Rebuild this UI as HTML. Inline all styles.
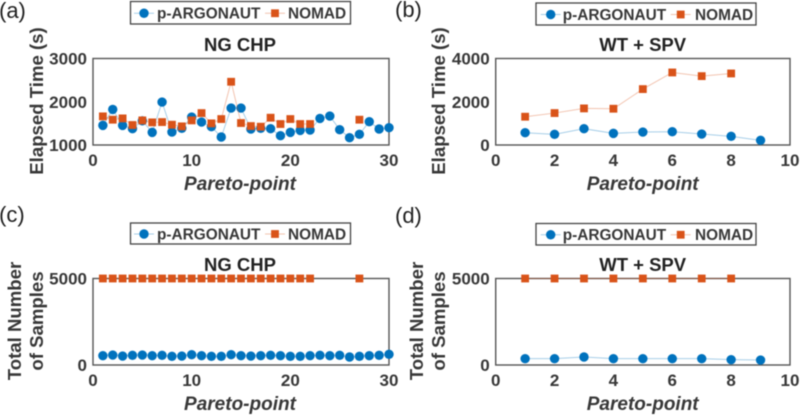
<!DOCTYPE html>
<html lang="en">
<head>
<meta charset="utf-8">
<title>Pareto-point comparison</title>
<style>
html,body{margin:0;padding:0;background:#fff;width:800px;height:415px;overflow:hidden}
svg{display:block;filter:blur(0.5px)}
text{font-family:"Liberation Sans",Arial,sans-serif}
</style>
</head>
<body>
<svg id="fig" xmlns="http://www.w3.org/2000/svg" width="800" height="415" viewBox="0 0 800 415"></svg>
<script>
const argonautTimeChp = [1454,1823,1454,1377,1560,1292,1992,1300,1385,1646,1530,1423,1185,1854,1854,1370,1385,1377,1215,1292,1338,1346,1615,1669,1354,1169,1246,1538,1370,1400];
const nomadTimeChp = [1662,1585,1615,1462,1569,1523,1530,1469,1431,1569,1738,1500,1600,2462,1508,1438,1423,1631,1485,1600,1485,1485,null,null,null,null,1585,null,null,null];
const argonautTimeSpv = [569,492,754,538,600,615,508,400,215];
const nomadTimeSpv = [1308,1477,1692,1677,2585,3354,3185,3308];
const argonautSamplesChp = [540,577,519,558,577,540,558,500,519,596,540,500,500,596,540,519,540,558,540,500,500,540,558,540,558,462,500,540,558,615];
const nomadSamplesChp = [5000,5000,5000,5000,5000,5000,5000,5000,5000,5000,5000,5000,5000,5000,5000,5000,5000,5000,5000,5000,5000,5000,null,null,null,null,5000,null,null,null];
const argonautSamplesSpv = [365,365,462,365,365,365,365,308,288];
const nomadSamplesSpv = [5000,5000,5000,5000,5000,5000,5000,5000];
const xTicksChp = [0,10,20,30];
const xTicksSpv = [0,2,4,6,8,10];
const yTicksTimeChp = [1000,2000,3000];
const yTicksTimeSpv = [0,2000,4000];
const yTicksSamples = [0,5000];
const seriesNames = ['p-ARGONAUT','NOMAD'];

const NS = 'http://www.w3.org/2000/svg';
const fig = document.getElementById('fig');
const BLUE = '#0072BD', ORANGE = '#D95319', INK = '#383838';
const R = 4.7, S = 3.9;

function make(parent, tag, attrs, txt){
  const el = document.createElementNS(NS, tag);
  for (const k in attrs) el.setAttribute(k, attrs[k]);
  if (txt !== undefined) el.textContent = txt;
  parent.appendChild(el);
  return el;
}
function drawSeries(g, values, sx, sy, color, kind){
  let run = [];
  const flush = () => {
    if (run.length > 1) {
      const line = make(g, 'polyline', {points: run.join(' '), fill:'none', stroke:color, 'stroke-width':1, 'stroke-opacity':0.35});
      
      
    }
    run = [];
  };
  values.forEach((v, i) => {
    if (v === null) { flush(); return; }
    run.push(sx(i + 1) + ',' + sy(v));
  });
  flush();
  values.forEach((v, i) => {
    if (v === null) return;
    let m;
    if (kind === 'argonaut') m = make(g, 'circle', {cx:sx(i + 1), cy:sy(v), r:R, fill:color});
    else m = make(g, 'rect', {x:sx(i + 1) - S, y:sy(v) - S, width:2 * S, height:2 * S, fill:color});
    
    
  });
}
function drawLegend(g, lg){
  const box = make(g, 'rect', {x:lg.x, y:lg.y, width:lg.w, height:lg.h, fill:'#fff', stroke:'#444', 'stroke-width':1.3});
  
  
  const cy = lg.y + lg.h / 2 + 0.5;
  const l1 = make(g, 'line', {x1:lg.m1 - 10, x2:lg.m1 + 10, y1:cy, y2:cy, stroke:BLUE, 'stroke-opacity':0.35});
  
  
  const c = make(g, 'circle', {cx:lg.m1, cy:cy, r:R, fill:BLUE});
  
  
  const t1 = make(g, 'text', {x:lg.t1, y:cy + 5.3, 'font-size':15.4, 'font-weight':'bold', fill:INK}, seriesNames[0]);
  
  
  const l2 = make(g, 'line', {x1:lg.m2 - 10, x2:lg.m2 + 10, y1:cy, y2:cy, stroke:ORANGE, 'stroke-opacity':0.35});
  
  
  const s = make(g, 'rect', {x:lg.m2 - S, y:cy - S, width:2 * S, height:2 * S, fill:ORANGE});
  
  
  const t2 = make(g, 'text', {x:lg.t2, y:cy + 5.3, 'font-size':15.4, 'font-weight':'bold', fill:INK}, seriesNames[1]);
  
  
}
function drawPanel(p){
  const g = make(fig, 'g', {});
  
  
  const xMin = p.xTicks[0], xMax = p.xTicks[p.xTicks.length - 1];
  const yMin = p.yTicks[0], yMax = p.yTicks[p.yTicks.length - 1];
  const sx = v => p.l + (v - xMin) / (xMax - xMin) * (p.r - p.l);
  const sy = v => p.b - (v - yMin) / (yMax - yMin) * (p.b - p.t);

  const tag = make(g, 'text', {x:p.tagX, y:p.tagY, 'font-size':22, fill:'#222'}, '(' + p.id + ')');
  
  

  drawLegend(g, p.legend);

  const frame = make(g, 'rect', {x:p.l, y:p.t, width:p.r - p.l, height:p.b - p.t, fill:'none', stroke:'#555', 'stroke-width':1.4});
  
  

  const title = make(g, 'text', {x:p.cx, y:p.titleY, 'font-size':18.5, 'font-weight':'bold', 'text-anchor':'middle', fill:'#222'}, p.title);
  
  

  p.xTicks.forEach(v => {
    const t = make(g, 'text', {x:sx(v), y:p.b + 21, 'font-size':17, 'font-weight':'bold', 'text-anchor':'middle', fill:INK}, String(v));
    
    
  });
  p.yTicks.forEach(v => {
    const t = make(g, 'text', {x:p.l - 6, y:sy(v) + 6, 'font-size':17, 'font-weight':'bold', 'text-anchor':'end', fill:INK}, String(v));
    
    
  });

  const xt = make(g, 'text', {x:p.cx, y:p.b + 45, 'font-size':19, 'font-weight':'bold', 'font-style':'italic', 'text-anchor':'middle', fill:INK}, 'Pareto-point');
  
  

  p.yTitle.forEach(line => {
    const yt = make(g, 'text', {x:0, y:0, transform:'translate(' + line.x + ',' + p.yTitleCy + ') rotate(-90)', 'font-size':18.6, 'font-weight':'bold', 'text-anchor':'middle', fill:INK}, line.text);
    
    
  });

  const a = make(g, 'g', {});
  
  
  drawSeries(a, p.argonaut, sx, sy, BLUE, 'argonaut');
  const n = make(g, 'g', {});
  
  
  drawSeries(n, p.nomad, sx, sy, ORANGE, 'nomad');
}

drawPanel({id:'a', l:93, r:389, t:58.5, b:145, cx:240, titleY:51, tagX:-1, tagY:18, title:'NG CHP',
  xTicks:xTicksChp, yTicks:yTicksTimeChp, argonaut:argonautTimeChp, nomad:nomadTimeChp,
  yTitle:[{x:43, text:'Elapsed Time (s)'}], yTitleCy:101,
  legend:{x:130.5, y:1.5, w:220, h:22.5, m1:144, m2:275, t1:157, t2:288}});
drawPanel({id:'b', l:495.7, r:790, t:58.5, b:145, cx:642.7, titleY:51, tagX:395, tagY:17, title:'WT + SPV',
  xTicks:xTicksSpv, yTicks:yTicksTimeSpv, argonaut:argonautTimeSpv, nomad:nomadTimeSpv,
  yTitle:[{x:445, text:'Elapsed Time (s)'}], yTitleCy:101,
  legend:{x:536, y:3, w:220, h:22, m1:550.7, m2:680.7, t1:562.7, t2:695}});
drawPanel({id:'c', l:93, r:389, t:278.5, b:365, cx:240, titleY:271, tagX:-1, tagY:222, title:'NG CHP',
  xTicks:xTicksChp, yTicks:yTicksSamples, argonaut:argonautSamplesChp, nomad:nomadSamplesChp,
  yTitle:[{x:21, text:'Total Number'},{x:43, text:'of Samples'}], yTitleCy:321,
  legend:{x:130.5, y:223, w:220, h:21, m1:144, m2:275, t1:157, t2:288}});
drawPanel({id:'d', l:495.7, r:790, t:278.5, b:365, cx:642.7, titleY:271, tagX:395, tagY:223, title:'WT + SPV',
  xTicks:xTicksSpv, yTicks:yTicksSamples, argonaut:argonautSamplesSpv, nomad:nomadSamplesSpv,
  yTitle:[{x:423, text:'Total Number'},{x:445, text:'of Samples'}], yTitleCy:321,
  legend:{x:536, y:223.5, w:220, h:21.5, m1:550.7, m2:680.7, t1:562.7, t2:695}});
</script>
</body>
</html>
